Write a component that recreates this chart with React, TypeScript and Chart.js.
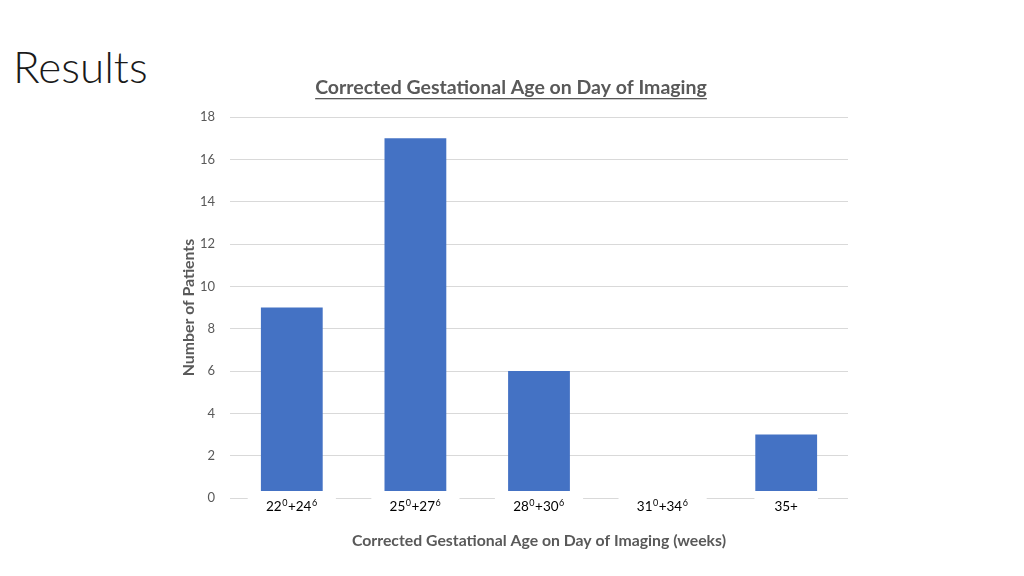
import React, { useEffect, useRef } from "react";
import { Chart, registerables } from "chart.js";

Chart.register(...registerables);

const categories = ["22⁰+24⁶", "25⁰+27⁶", "28⁰+30⁶", "31⁰+34⁶", "35+"];
const patients = [9, 17, 6, 0, 3];
const yTicks = [0, 2, 4, 6, 8, 10, 12, 14, 16, 18];
const chartTitle = "Corrected Gestational Age on Day of Imaging";
const xTitle = "Corrected Gestational Age on Day of Imaging (weeks)";
const yTitle = "Number of Patients";
const slideTitle = "Results";

const FONT = "Lato, 'Open Sans', 'Liberation Sans', sans-serif";
const SUP: Record<string, string> = { "⁰": "0", "¹": "1", "²": "2", "³": "3", "⁴": "4", "⁵": "5", "⁶": "6", "⁷": "7", "⁸": "8", "⁹": "9" };

function drawRich(ctx: CanvasRenderingContext2D, label: string, cx: number, cy: number, size: number) {
  // split into runs of normal and superscript characters
  const runs: { t: string; sup: boolean }[] = [];
  for (const ch of label) {
    const sup = ch in SUP;
    const c = sup ? SUP[ch] : ch;
    const last = runs[runs.length - 1];
    if (last && last.sup === sup) last.t += c;
    else runs.push({ t: c, sup });
  }
  const norm = `${size}px ${FONT}`;
  const small = `${Math.round(size * 0.68)}px ${FONT}`;
  let total = 0;
  runs.forEach((r) => {
    ctx.font = r.sup ? small : norm;
    total += ctx.measureText(r.t).width + (r.sup ? 1 : 0);
  });
  let x = cx - total / 2;
  ctx.textAlign = "left";
  ctx.textBaseline = "alphabetic";
  const base = cy + size * 0.36;
  runs.forEach((r) => {
    ctx.font = r.sup ? small : norm;
    ctx.fillText(r.t, x + (r.sup ? 0.5 : 0), r.sup ? base - size * 0.38 : base);
    x += ctx.measureText(r.t).width + (r.sup ? 1 : 0);
  });
  return total;
}

const overlayPlugin = {
  id: "overlay",
  afterDatasetsDraw(chart: any) {
    const ctx = chart.ctx;
    const x = chart.scales.x;
    const area = chart.chartArea;
    ctx.save();
    categories.forEach((lab, i) => {
      const cx = x.getPixelForTick(i);
      ctx.font = `13.5px ${FONT}`;
      const w = ctx.measureText(lab).width + 40;
      ctx.fillStyle = "#ffffff";
      ctx.fillRect(cx - w / 2, area.bottom - 7, w, 22);
      ctx.fillStyle = "#000000";
      drawRich(ctx, lab, cx, area.bottom + 8, 13.5);
    });
    // chart title with underline
    const tx = (area.left + area.right) / 2 - 28;
    const ty = 88;
    ctx.font = `bold 19.5px ${FONT}`;
    ctx.textAlign = "center";
    ctx.textBaseline = "middle";
    ctx.fillStyle = "#595959";
    ctx.fillText(chartTitle, tx, ty);
    const tw = ctx.measureText(chartTitle).width;
    ctx.fillRect(tx - tw / 2, ty + 10, tw, 1.3);
    ctx.restore();
  },
};

export default function App() {
  const ref = useRef<HTMLCanvasElement>(null);
  useEffect(() => {
    if (!ref.current) return;
    const chart = new Chart(ref.current, {
      type: "bar",
      data: {
        labels: categories,
        datasets: [
          {
            data: patients,
            backgroundColor: "#4472C4",
            borderWidth: 0,
            categoryPercentage: 0.5,
            barPercentage: 1,
          },
        ],
      },
      options: {
        animation: false,
        responsive: false,
        layout: { padding: { left: 170, right: 176, top: 117, bottom: 18 } },
        plugins: { legend: { display: false }, tooltip: { enabled: false }, title: { display: false } },
        scales: {
          x: {
            grid: { display: false, drawTicks: false },
            border: { display: false },
            ticks: { color: "rgba(0,0,0,0)", font: { size: 13, family: FONT }, padding: 2 },
            title: {
              display: true,
              text: xTitle,
              color: "#595959",
              font: { size: 15.8, weight: "bold", family: FONT },
              padding: { top: 8, bottom: 8 },
            },
            afterFit(s: any) {
              s.height = 60;
            },
          },
          y: {
            min: 0,
            max: 18,
            afterBuildTicks(s: any) {
              s.ticks = yTicks.map((v) => ({ value: v }));
            },
            grid: { color: "#d9d9d9", drawTicks: false, lineWidth: 1 },
            border: { display: false },
            ticks: { color: "#595959", font: { size: 13, family: FONT }, padding: 15 },
            title: {
              display: true,
              text: yTitle,
              color: "#595959",
              font: { size: 15.8, weight: "bold", family: FONT },
              padding: { top: 9, bottom: 9 },
            },
            afterFit(s: any) {
              s.width = 60;
            },
          },
        },
      },
      plugins: [overlayPlugin],
    });
    return () => chart.destroy();
  }, []);
  return (
    <div style={{ position: "absolute", left: 0, top: 0, width: 1024, height: 576, background: "#fff" }}>
      <div
        style={{
          position: "absolute",
          left: 13,
          top: 38,
          fontFamily: FONT,
          fontWeight: 300,
          fontSize: 44,
          lineHeight: "56px",
          color: "#1a1a1a",
        }}
      >
        {slideTitle}
      </div>
      <canvas ref={ref} width={1024} height={576} style={{ position: "absolute", left: 0, top: 0 }} />
    </div>
  );
}
